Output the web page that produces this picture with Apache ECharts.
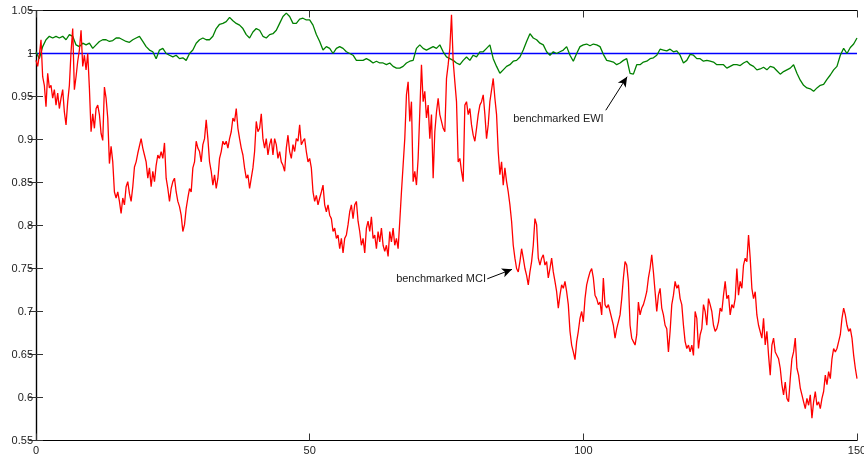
<!DOCTYPE html>
<html>
<head>
<meta charset="utf-8">
<script src="https://cdn.jsdelivr.net/npm/echarts@6/dist/echarts.min.js"></script>
<style>
  html, body { margin: 0; padding: 0; background: #fff; }
  #chart { width: 864px; height: 459px; }
</style>
</head>
<body>
<div id="chart"></div>
<script>
// Benchmarked MCI, sampled on an even time grid over 0..150
const mciA = [
  0.992,0.985,0.998,1.016,0.973,0.963,0.938,0.977,0.960,0.963,0.948,0.958,0.940,0.954,0.936,0.948,0.958,0.932,0.917,0.944,
  0.963,1.002,1.029,0.958,0.973,0.991,1.004,1.027,0.985,0.998,0.981,1.000,0.960,0.909,0.930,0.913,0.936,0.940,0.929,0.907,
  0.899,0.961,0.948,0.925,0.872,0.892,0.874,0.839,0.832,0.839,0.828,0.814,0.832,0.824,0.845,0.851,0.837,0.828,0.845,0.868,
  0.874,0.884,0.882,0.901,0.890,0.882,0.874,0.855,0.867,0.845,0.863,0.851,0.870,0.882,0.878,0.886,0.878,0.896,0.855,0.843,
  0.828,0.843,0.851,0.855,0.839,0.828,0.822,0.812,0.793,0.801,0.820,0.832,0.843,0.839,0.867,0.874,0.898,0.890,0.886,0.874,
  0.894,0.901,0.923,0.901,0.874,0.863,0.847,0.859,0.843,0.855,0.878,0.886,0.898,0.894,0.898,0.890,0.901,0.909,0.925,0.921,
  0.936,0.913,0.901,0.890,0.882,0.867,0.855,0.859,0.843,0.855,0.867,0.886,0.921,0.909,0.913,0.930,0.901,0.890,0.901,0.882,
  0.894,0.901,0.882,0.901,0.894,0.878,0.886,0.874,0.870,0.863,0.890,0.905,0.886,0.878,0.894,0.886,0.901,0.898,0.917,0.894,
  0.898,0.901,0.886,0.874
];
const mciB = [
  0.878,0.867,0.839,0.828,0.835,0.824,0.832,0.839,0.847,0.824,0.816,0.824,0.812,0.808,0.793,0.797,0.785,0.789,0.773,0.785,
  0.768,0.785,0.789,0.801,0.816,0.824,0.808,0.824,0.828,0.805,0.793,0.777,0.785,0.768,0.797,0.805,0.793,0.810,0.785,0.789,
  0.773,0.793,0.781,0.797,0.777,0.770,0.777,0.764,0.793,0.781,0.797,0.777,0.785,0.773,0.805,0.839,0.870,0.901,0.952,0.967,
  0.921,0.944,0.851,0.863,0.847,0.878,0.932,0.987,0.944,0.956,0.925,0.940,0.901,0.929,0.855,0.909,0.932,0.948,0.929,0.921,
  0.913,0.909,0.971,0.987,1.006,1.045,0.991,0.967,0.944,0.874,0.878,0.863,0.851,0.940,0.944,0.929,0.936,0.917,0.905,0.898,
  0.913,0.929,0.940,0.944,0.952,0.929,0.901,0.917,0.944,0.944,0.971,0.948,0.929,0.886,0.859,0.874,0.847,0.867,0.851,0.839,
  0.824,0.805,0.777,0.762,0.750,0.746,0.758,0.773,0.762,0.750,0.742,0.731,0.746,0.758,0.777,0.808,0.801,0.762,0.754,0.762,
  0.766,0.754,0.758,0.739,0.750,0.762,0.746,0.735,0.723,0.704,0.719,0.731,0.727,0.735,0.723,0.708,0.677,0.661,0.653,0.644,
  0.665
];
const mciC = [
  0.677,0.692,0.700,0.688,0.715,0.731,0.739,0.746,0.750,0.739,0.719,0.715,0.708,0.711,0.696,0.739,0.708,0.704,0.708,0.700,
  0.692,0.684,0.669,0.680,0.688,0.696,0.715,0.739,0.758,0.754,0.735,0.684,0.669,0.665,0.661,0.673,0.711,0.696,0.704,0.708,
  0.715,0.723,0.739,0.750,0.766,0.746,0.723,0.700,0.719,0.727,0.704,0.696,0.684,0.680,0.653,0.677,0.708,0.719,0.735,0.727,
  0.731,0.715,0.708,0.684,0.665,0.657,0.661,0.653,0.661,0.649,0.700,0.692,0.657,0.673,0.680,0.708,0.700,0.684,0.715,0.708,
  0.700,0.684,0.677,0.680,0.688,0.704,0.700,0.719,0.735,0.715,0.719,0.696,0.708,0.704,0.715,0.750,0.719,0.735,0.727,0.754,
  0.762,0.758,0.789,0.762,0.727,0.715,0.723,0.696,0.684,0.684,0.669,0.692,0.661,0.677,0.649,0.626,0.661,0.669,0.653,0.653,
  0.645,0.634,0.615,0.603,0.618,0.599,0.595,0.622,0.645,0.653,0.669,0.634,0.626,0.611,0.603,0.595,0.587,0.599,0.591,0.603,
  0.576,0.595,0.607,0.591,0.595,0.587,0.599,0.607,0.626,0.615,0.630,0.622,0.645,0.657,0.653,0.657,0.665,0.673,0.692,0.704,
  0.696,0.684,0.677,0.680,0.669,0.649,0.634,0.622
];

// Benchmarked EWI, sampled at half the MCI resolution
const ewiA = [
  1.002,0.994,1.008,1.016,1.020,1.018,1.020,1.018,1.020,1.016,1.022,1.020,1.010,1.008,1.012,1.010,1.012,1.006,1.010,1.014,
  1.016,1.016,1.014,1.015,1.018,1.018,1.016,1.014,1.013,1.016,1.018,1.020,1.014,1.008,1.004,1.002,0.994,1.004,1.006,1.000,
  0.998,0.996,0.998,0.994,0.995,0.992,1.000,1.004,1.012,1.016,1.018,1.016,1.016,1.020,1.029,1.034,1.035,1.037,1.042,1.038,
  1.035,1.033,1.029,1.022,1.018,1.025,1.029,1.027,1.020,1.018,1.022,1.023,1.027,1.035,1.043,1.047,1.043,1.035,1.035,1.040,
  1.041,1.039
];
const ewiB = [
  1.039,1.033,1.022,1.014,1.004,1.008,1.006,1.000,1.006,1.008,1.006,1.002,1.000,0.998,0.992,0.992,0.992,0.994,0.992,0.989,
  0.991,0.989,0.989,0.987,0.989,0.985,0.983,0.983,0.985,0.989,0.991,0.992,1.006,1.010,1.006,1.004,1.006,1.008,1.006,1.010,
  1.002,0.996,0.994,0.992,0.989,0.987,0.992,0.996,0.992,0.998,0.996,1.002,1.002,1.006,1.010,0.994,0.985,0.977,0.981,0.985,
  0.987,0.991,0.992,0.996,1.004,1.014,1.023,1.018,1.016,1.012,1.010,1.002,0.998,1.002,1.000,1.002,1.004,1.008,0.998,0.991,
  1.000
];
const ewiC = [
  1.008,1.010,1.011,1.009,1.011,1.010,1.008,0.999,0.992,0.991,0.990,0.987,0.989,0.992,0.994,0.977,0.976,0.987,0.987,0.990,
  0.991,0.994,0.995,0.998,1.005,1.004,1.003,1.005,1.002,1.003,0.998,0.989,0.992,0.999,0.998,0.994,0.994,0.991,0.992,0.991,
  0.990,0.987,0.987,0.987,0.983,0.985,0.987,0.987,0.986,0.989,0.991,0.987,0.985,0.981,0.982,0.984,0.981,0.985,0.984,0.980,
  0.976,0.979,0.981,0.983,0.987,0.977,0.969,0.963,0.960,0.959,0.956,0.960,0.963,0.964,0.970,0.975,0.981,0.985,0.998,1.006,
  1.000,1.007,1.011,1.018
];

// Reference level of the benchmark (start and end of the span)
const benchmarkLevel = [1, 1];

const xTicks = [0, 50, 100, 150];
const yTicksMin = 0.55, yTicksMax = 1.05, yStep = 0.05;
const tEnd = 150;

const mci = mciA.concat(mciB, mciC);
const ewi = ewiA.concat(ewiB, ewiC);

function toSeries(values) {
  const dt = tEnd / (values.length - 1);
  return values.map((v, i) => [i * dt, v]);
}

const FONT = 'Arial, "Liberation Sans", Helvetica, sans-serif';
const axisLine = { show: true, lineStyle: { color: '#000', width: 1.2 } };
const tick = { show: true, inside: true, length: 7, lineStyle: { color: '#333', width: 1 } };

const chart = echarts.init(document.getElementById('chart'), null, { renderer: 'canvas' });
chart.setOption({
  animation: false,
  backgroundColor: '#fff',
  grid: { left: 36, right: 7, top: 10.5, bottom: 18.5, containLabel: false, outerBoundsMode: 'none' },
  xAxis: [
    {
      type: 'value', min: xTicks[0], max: xTicks[xTicks.length - 1], interval: xTicks[1] - xTicks[0],
      position: 'bottom', axisLine, axisTick: tick, splitLine: { show: false },
      axisLabel: { show: true, margin: 5, fontSize: 11, fontFamily: FONT, color: '#222',
                   showMinLabel: true, showMaxLabel: true, hideOverlap: false }
    },
    {
      type: 'value', min: xTicks[0], max: xTicks[xTicks.length - 1], interval: xTicks[1] - xTicks[0],
      position: 'top', axisLine, axisTick: tick, splitLine: { show: false },
      axisLabel: { show: false }
    }
  ],
  yAxis: [
    {
      type: 'value', min: yTicksMin, max: yTicksMax, interval: yStep,
      position: 'left', axisLine, axisTick: tick, splitLine: { show: false },
      axisLabel: {
        show: true, margin: 3, fontSize: 11, fontFamily: FONT, color: '#222',
        formatter: v => String(+v.toFixed(2))
      }
    },
    {
      type: 'value', min: yTicksMin, max: yTicksMax, interval: yStep,
      position: 'right', axisLine, axisTick: tick, splitLine: { show: false },
      axisLabel: { show: false }
    }
  ],
  series: [
    {
      name: 'benchmark', type: 'line', xAxisIndex: 0, yAxisIndex: 0,
      data: [[xTicks[0], benchmarkLevel[0]], [tEnd, benchmarkLevel[1]]],
      showSymbol: false, symbol: 'none', z: 1,
      lineStyle: { color: '#0000ff', width: 1.3 }, silent: true
    },
    {
      name: 'benchmarked EWI', type: 'line', xAxisIndex: 0, yAxisIndex: 0,
      data: toSeries(ewi), showSymbol: false, symbol: 'none', z: 2,
      lineStyle: { color: '#008000', width: 1.3 }, silent: true,
      markLine: {
        silent: true, symbol: ['none', 'arrow'], symbolSize: [7, 10],
        label: { show: false },
        lineStyle: { color: '#000', width: 1, type: 'solid' },
        data: [[{ coord: [104.1, 0.934] }, { coord: [108.0, 0.973] }]]
      },
      markPoint: {
        silent: true, symbol: 'circle', symbolSize: 0,
        data: [{
          coord: [103.9, 0.9238],
          label: { show: true, position: 'left', distance: 1, formatter: 'benchmarked EWI',
                   fontSize: 11, fontFamily: FONT, color: '#222' }
        }]
      }
    },
    {
      name: 'benchmarked MCI', type: 'line', xAxisIndex: 0, yAxisIndex: 0,
      data: toSeries(mci), showSymbol: false, symbol: 'none', z: 3,
      lineStyle: { color: '#ff0000', width: 1.3 }, silent: true,
      markLine: {
        silent: true, symbol: ['none', 'arrow'], symbolSize: [7, 10],
        label: { show: false },
        lineStyle: { color: '#000', width: 1, type: 'solid' },
        data: [[{ coord: [82.45, 0.738] }, { coord: [86.97, 0.749] }]]
      },
      markPoint: {
        silent: true, symbol: 'circle', symbolSize: 0,
        data: [{
          coord: [82.4, 0.7375],
          label: { show: true, position: 'left', distance: 1, formatter: 'benchmarked MCI',
                   fontSize: 11, fontFamily: FONT, color: '#222' }
        }]
      }
    }
  ]
});
</script>
</body>
</html>
